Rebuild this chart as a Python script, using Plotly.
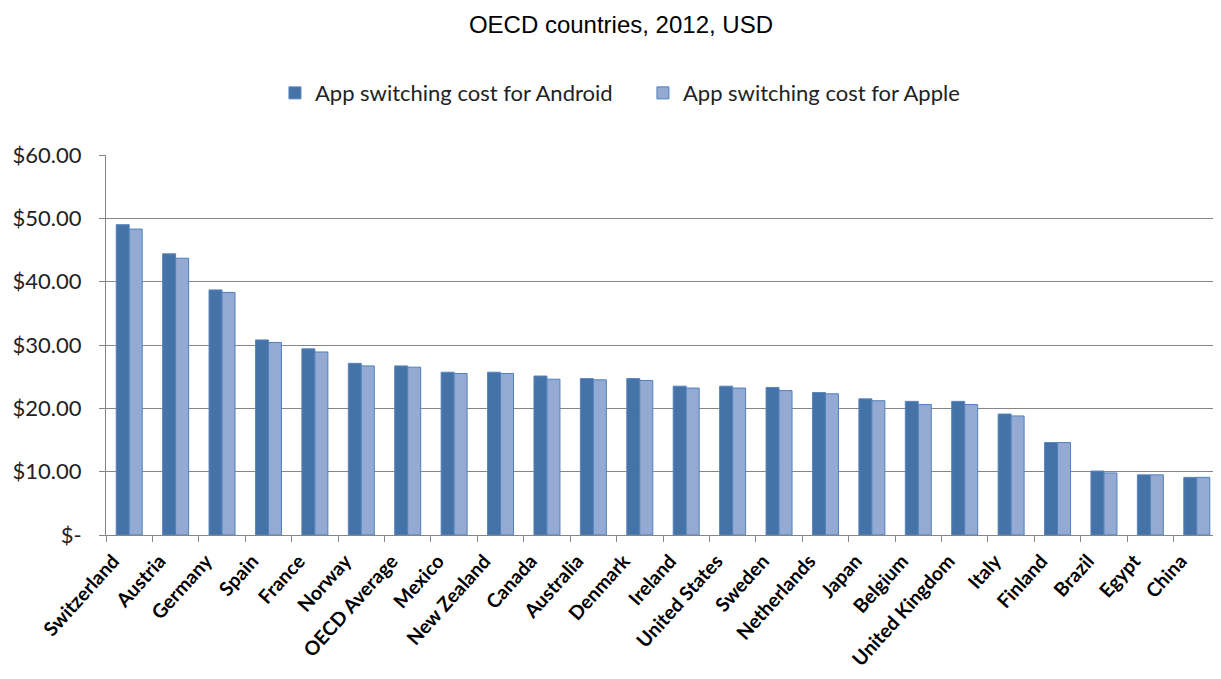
import plotly.graph_objects as go

countries = ["Switzerland", "Austria", "Germany", "Spain", "France", "Norway", "OECD Average",
             "Mexico", "New Zealand", "Canada", "Australia", "Denmark", "Ireland", "United States",
             "Sweden", "Netherlands", "Japan", "Belgium", "United Kingdom", "Italy", "Finland",
             "Brazil", "Egypt", "China"]
android = [49.0, 44.4, 38.7, 30.8, 29.4, 27.1, 26.7, 25.7, 25.7, 25.1, 24.7, 24.7, 23.5, 23.5,
           23.3, 22.5, 21.5, 21.1, 21.1, 19.1, 14.6, 10.1, 9.5, 9.1]
apple = [48.3, 43.7, 38.3, 30.4, 28.9, 26.7, 26.5, 25.5, 25.5, 24.6, 24.5, 24.4, 23.2, 23.2,
         22.8, 22.3, 21.2, 20.6, 20.6, 18.8, 14.6, 9.8, 9.5, 9.1]
y_tickvals = [0, 10, 20, 30, 40, 50, 60]
y_ticktext = ["$-", "$10.00", "$20.00", "$30.00", "$40.00", "$50.00", "$60.00"]

fig = go.Figure()
fig.add_trace(go.Bar(x=countries, y=android, name="App switching cost for Android",
                     marker=dict(color="#4572a7", line=dict(color="#5a85bd", width=1))))
fig.add_trace(go.Bar(x=countries, y=apple, name="App switching cost for Apple",
                     marker=dict(color="#95aad2", line=dict(color="#4f81bd", width=1))))

fig.update_layout(
    width=1221, height=679,
    margin=dict(l=98, r=9, t=147, b=152),
    paper_bgcolor="white", plot_bgcolor="white",
    barmode="group", bargap=0.44, bargroupgap=0,
    title=dict(text="OECD countries, 2012, USD", x=0.502, xanchor="center", y=0.975, yanchor="middle",
               font=dict(family="Liberation Sans, Arial", size=24, color="black")),
    legend=dict(orientation="h", x=0.482, xanchor="center", y=1.163, yanchor="middle",
                font=dict(family="Lato, Calibri", size=22, color="#222"),
                itemwidth=30, traceorder="normal", entrywidth=323, entrywidthmode="pixels"),
    font=dict(family="Lato, Calibri", color="black"),
)
fig.update_xaxes(type="category", tickson="boundaries", ticks="outside", ticklen=6,
                 tickcolor="#868686", showline=True, linecolor="#868686", linewidth=1,
                 tickangle=-48, automargin=False, ticklabelstandoff=6, ticklabelshift=-16,
                 tickfont=dict(family="Lato, Calibri", size=19.5, color="black", weight="bold"),
                 showgrid=False)
fig.update_yaxes(range=[0, 60], tickvals=y_tickvals, ticktext=y_ticktext, ticks="outside",
                 ticklen=6, tickcolor="#868686", showline=True, linecolor="#868686",
                 showgrid=True, gridcolor="#868686", gridwidth=1, zeroline=False, automargin=False,
                 ticklabelstandoff=13,
                 tickfont=dict(family="Lato, Calibri", size=22, color="#222"))

fig.write_html("out.html")
